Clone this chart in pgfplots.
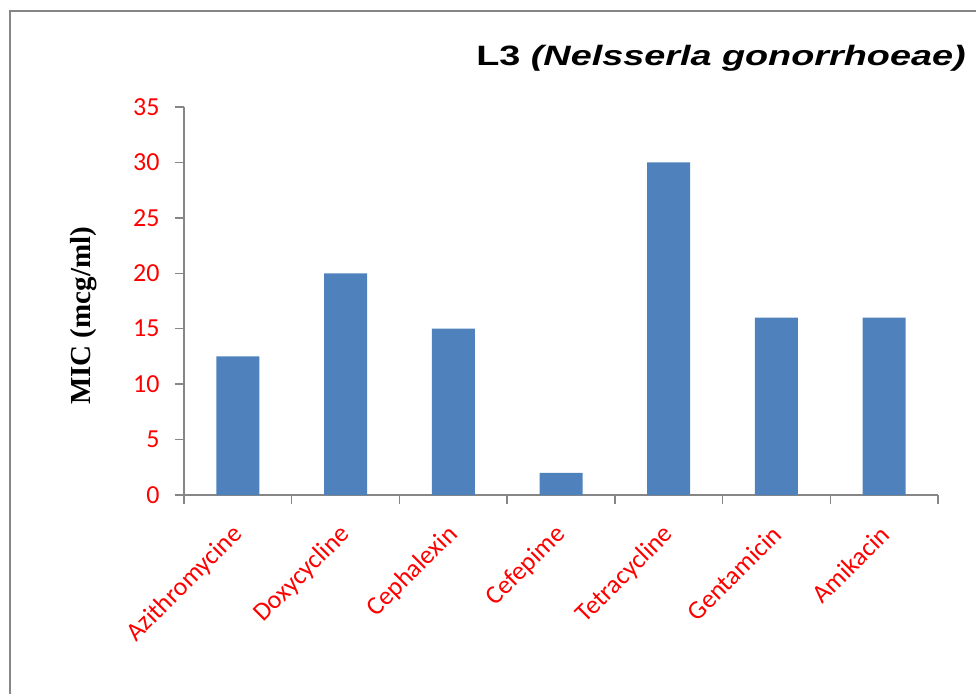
\documentclass[border=0pt]{standalone}
\usepackage{fontspec}
\setmainfont{Carlito}
\newfontfamily\arialfont{Liberation Sans}
\newfontfamily\timesfont{Liberation Serif}
\usepackage{pgfplots}
\pgfplotsset{compat=1.18}
\definecolor{barblue}{HTML}{4F81BD}
\definecolor{axgray}{HTML}{868686}
\begin{document}
\begin{tikzpicture}
\useasboundingbox (0,0) rectangle (976pt,693pt);
\draw[axgray, line width=1.5pt] (10pt,-2pt) -- (10pt,682pt) -- (980pt,682pt);
\begin{axis}[
  at={(184pt,198pt)}, anchor=south west,
  scale only axis, width=754pt, height=388pt,
  xmin=-0.5, xmax=6.5, ymin=0, ymax=35,
  axis lines*=left,
  axis line style={axgray, line width=1.5pt},
  ytick={0,5,...,35},
  xtick={0,...,6},
  xticklabels={Azithromycine,Doxycycline,Cephalexin,Cefepime,Tetracycline,Gentamicin,Amikacin},
  minor xtick={-0.5,0.5,...,6.5},
  tick align=outside,
  major tick length=9pt,
  minor tick length=9pt,
  x tick style={draw=none},
  minor x tick style={draw=axgray, line width=1.5pt},
  y tick style={axgray, line width=1.5pt},
  /pgf/number format/assume math mode=true,
  yticklabel style={font=\fontsize{26}{30}\selectfont, text=red, xshift=-12pt},
  xticklabel style={font=\fontsize{26}{30}\selectfont, text=red, xshift=3pt, yshift=-24pt, rotate=45, anchor=east},
  ylabel={\timesfont\bfseries MIC (mcg/ml)},
  ylabel style={font=\fontsize{29}{32}\selectfont, at={(axis description cs:0,0.5)}, anchor=south, xshift=-15pt, yshift=84pt},
  clip=false,
]
\addplot[ybar, bar width=43pt, fill=barblue, draw=none] coordinates {
  (0,12.5) (1,20) (2,15) (3,2) (4,30) (5,16) (6,16)
};
\end{axis}
\node[xscale=1.35, font=\arialfont\fontsize{28}{32}\selectfont\bfseries] at (721pt,635pt) {L3 \textit{(Nelsserla gonorrhoeae)}};
\end{tikzpicture}
\end{document}
